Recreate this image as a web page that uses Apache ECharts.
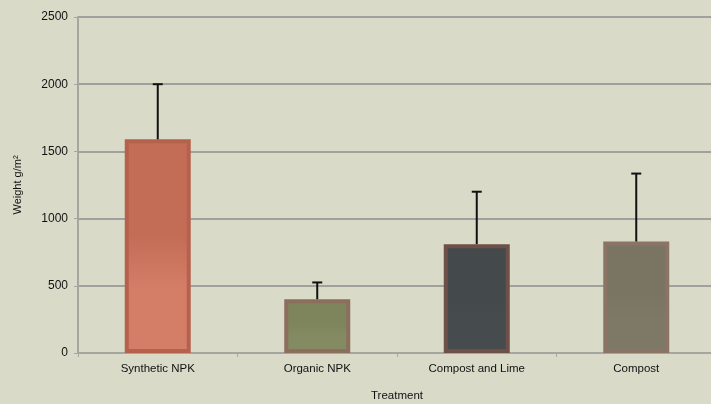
<!DOCTYPE html>
<html><head><meta charset="utf-8">
<script src="https://cdn.jsdelivr.net/npm/echarts@6/dist/echarts.min.js"></script>
<style>html,body{margin:0;padding:0;background:#d9dbc8;}#c{width:711px;height:404px;}</style>
</head><body><div id="c"></div>
<script>
var categories = ['Synthetic NPK', 'Organic NPK', 'Compost and Lime', 'Compost'];
var means = [1590, 400, 810, 830];
var upper = [2000, 525, 1200, 1335];
var yTicks = [0, 500, 1000, 1500, 2000, 2500];

var fills = [
  ['#c46d56', '#d47e67', '#b5624d'],
  ['#7e845c', '#848a62', '#8c6e5c'],
  ['#444a4b', '#464c4d', '#6e5048'],
  ['#7a7562', '#7e7966', '#8c7464']
];

var chart = echarts.init(document.getElementById('c'));
chart.setOption({
  backgroundColor: '#d9dbc8',
  animation: false,
  grid: { left: 78, right: -5, top: 17, bottom: 51, outerBoundsMode: 'none', containLabel: false },
  xAxis: {
    type: 'category', data: categories,
    name: 'Treatment', nameLocation: 'middle', nameGap: 37,
    nameTextStyle: { fontFamily: 'Liberation Sans', fontSize: 11.5, color: '#111' },
    axisLine: { lineStyle: { color: '#a6a6a0', width: 2 } },
    axisTick: { show: true, length: 4, lineStyle: { color: '#a6a6a0', width: 1 } },
    axisLabel: { fontFamily: 'Liberation Sans', fontSize: 11.5, color: '#111', margin: 10 }
  },
  yAxis: {
    type: 'value', min: 0, max: 2500, interval: 500,
    name: 'Weight g/m\u00b2', nameLocation: 'middle', nameGap: 55, nameRotate: 90,
    nameTextStyle: { fontFamily: 'Liberation Sans', fontSize: 11, color: '#111' },
    axisLine: { show: true, lineStyle: { color: '#a6a6a0', width: 2 } },
    axisTick: { show: true, length: 4, lineStyle: { color: '#a6a6a0' } },
    axisLabel: { fontFamily: 'Liberation Sans', fontSize: 12, color: '#111', margin: 10,
      formatter: function (v) { return yTicks.indexOf(v) >= 0 ? String(v) : ''; } },
    splitLine: { lineStyle: { color: '#a0a09c', width: 2 } }
  },
  series: [
    {
      type: 'bar', barWidth: 66,
      data: means.map(function (v, i) {
        return {
          value: v,
          itemStyle: {
            color: new echarts.graphic.LinearGradient(0, 0, 0, 1, [
              { offset: 0, color: fills[i][0] }, { offset: 0.45, color: fills[i][0] },
              { offset: 0.7, color: fills[i][1] }, { offset: 1, color: fills[i][1] }
            ]),
            borderColor: fills[i][2], borderWidth: 4
          }
        };
      }),
      z: 2
    },
    {
      type: 'custom',
      data: means.map(function (v, i) { return [i, v, upper[i]]; }),
      renderItem: function (params, api) {
        var lo = api.coord([api.value(0), api.value(1)]);
        var hi = api.coord([api.value(0), api.value(2)]);
        var x = lo[0];
        return {
          type: 'group',
          children: [
            { type: 'line', shape: { x1: x, y1: lo[1], x2: x, y2: hi[1] }, style: { stroke: '#111', lineWidth: 2 } },
            { type: 'line', shape: { x1: x - 5, y1: hi[1], x2: x + 5, y2: hi[1] }, style: { stroke: '#111', lineWidth: 2 } }
          ]
        };
      },
      z: 3
    }
  ]
});
</script></body></html>
